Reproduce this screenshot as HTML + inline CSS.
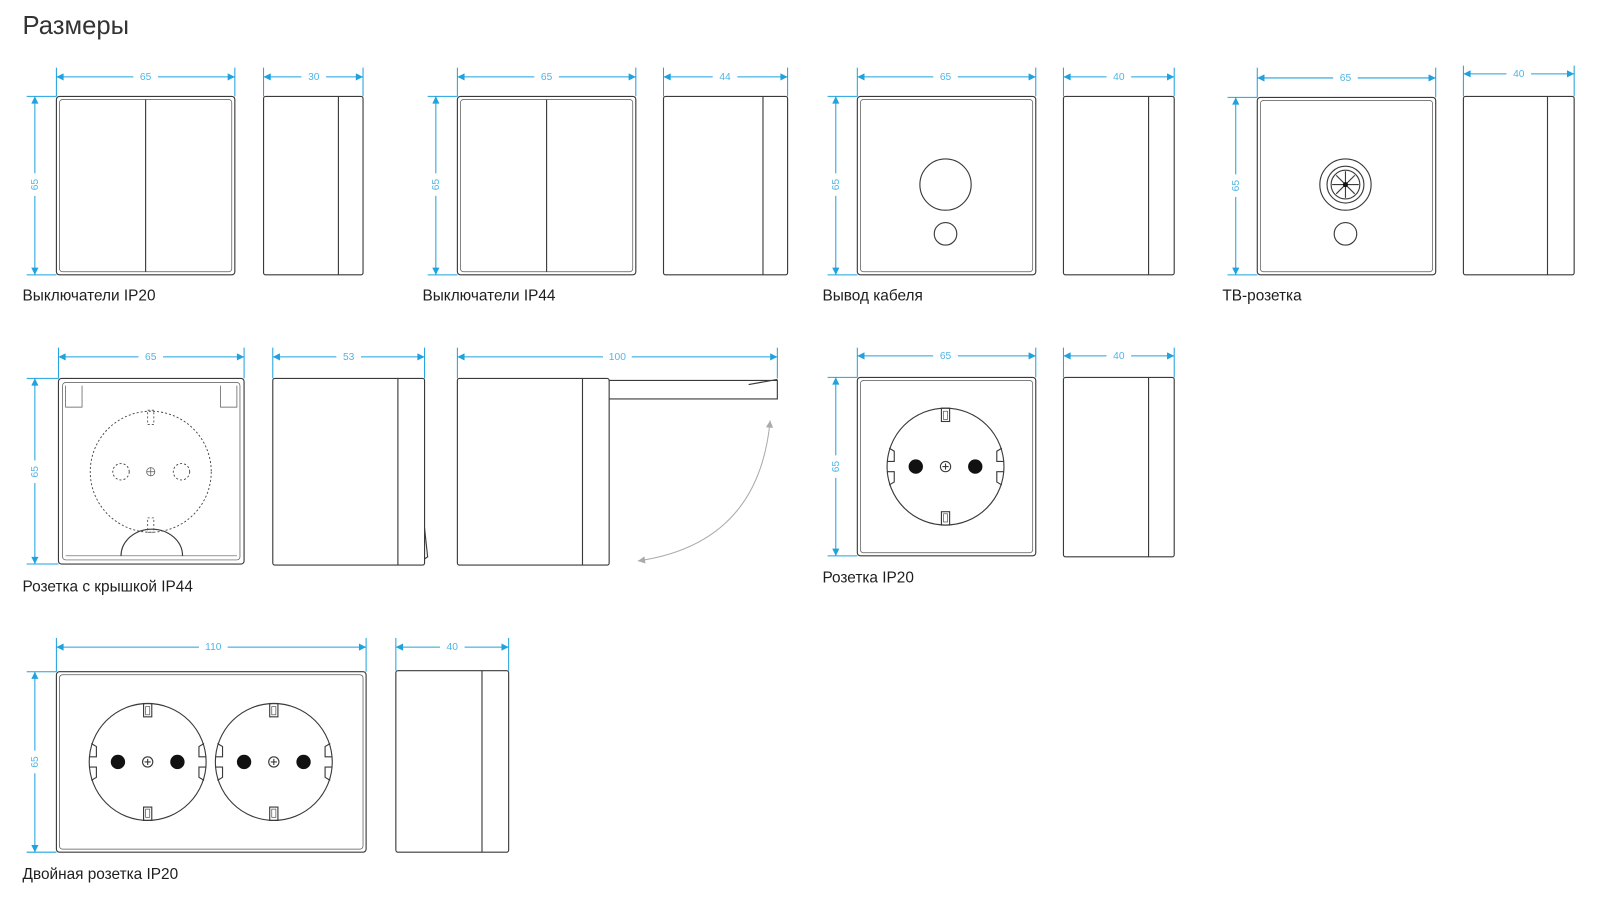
<!DOCTYPE html>
<html><head><meta charset="utf-8"><style>
html,body{margin:0;padding:0;background:#fff;}
svg{display:block}
.b{fill:none;stroke:#3a3a3a;stroke-width:1.1}
.t{fill:none;stroke:#555;stroke-width:0.7}
.d{stroke:#1fa2de;stroke-width:1;fill:none}
.dl{font-family:"Liberation Sans",sans-serif;font-size:10px;fill:#4fb6e6;text-anchor:middle}
.lab{font-family:"Liberation Sans","Noto Sans CJK SC",sans-serif;font-size:15px;fill:#1e1e1e}
</style></head><body>
<svg width="1608" height="906" viewBox="0 0 1568 883" preserveAspectRatio="xMinYMin meet" xmlns="http://www.w3.org/2000/svg">
<defs>
<marker id="a" viewBox="0 0 10 10" refX="10" refY="5" markerWidth="8" markerHeight="7" orient="auto-start-reverse" markerUnits="userSpaceOnUse"><path d="M0,0L10,5L0,10z" fill="#1fa2de"/></marker>
<marker id="g" viewBox="0 0 10 10" refX="10" refY="5" markerWidth="8" markerHeight="7" orient="auto-start-reverse" markerUnits="userSpaceOnUse"><path d="M0,0L10,5L0,10z" fill="#aaa"/></marker>
<g id="sock">
<circle r="57" class="b" stroke-width="1"/>
<path class="b" stroke-width="1" d="M-55,-18 L-50,-15 L-50,-5 L-57,-5 M-57,5 L-50,5 L-50,15 L-55,18 M55,-18 L50,-15 L50,-5 L57,-5 M57,5 L50,5 L50,15 L55,18"/>
<rect x="-4" y="-57" width="8" height="13" class="b" stroke-width="1"/>
<rect x="-2" y="-54" width="4" height="8" class="t"/>
<rect x="-4" y="44" width="8" height="13" class="b" stroke-width="1"/>
<rect x="-2" y="46" width="4" height="8" class="t"/>
<circle cx="-29" r="7" fill="#111"/><circle cx="29" r="7" fill="#111"/>
<circle r="5" class="b" stroke-width="0.9"/><path d="M-3,0H3M0,-3V3" class="b" stroke-width="0.9"/>
</g>
</defs>

<text x="22" y="33" font-family="Liberation Sans,sans-serif" font-size="25" fill="#333">Размеры</text>

<!-- Item 1 -->
<rect x="55" y="94" width="174" height="174" rx="3" class="b"/>
<rect x="58" y="97" width="168" height="168" rx="3" class="t"/>
<line x1="142" y1="97" x2="142" y2="265" class="b"/>
<rect x="257" y="94" width="97" height="174" rx="2" class="b"/>
<line x1="330" y1="94" x2="330" y2="268" class="b"/>
<g class="d">
<path d="M55,66V94M229,66V94M257,66V94M354,66V94M26,94H55M26,268H55"/>
<line x1="55" y1="75" x2="229" y2="75" marker-start="url(#a)" marker-end="url(#a)"/>
<line x1="257" y1="75" x2="354" y2="75" marker-start="url(#a)" marker-end="url(#a)"/>
<line x1="34" y1="94" x2="34" y2="268" marker-start="url(#a)" marker-end="url(#a)"/>
</g>
<rect x="130" y="69" width="24" height="12" fill="#fff"/><text x="142" y="78" class="dl">65</text>
<rect x="294" y="69" width="24" height="12" fill="#fff"/><text x="306" y="78" class="dl">30</text>
<rect x="28" y="169" width="12" height="22" fill="#fff"/><text transform="translate(37,180) rotate(-90)" class="dl">65</text>
<text x="22" y="293" class="lab">Выключатели IP20</text>

<!-- Item 2 -->
<rect x="446" y="94" width="174" height="174" rx="3" class="b"/>
<rect x="449" y="97" width="168" height="168" rx="3" class="t"/>
<line x1="533" y1="97" x2="533" y2="265" class="b"/>
<rect x="647" y="94" width="121" height="174" rx="2" class="b"/>
<line x1="744" y1="94" x2="744" y2="268" class="b"/>
<g class="d">
<path d="M446,66V94M620,66V94M647,66V94M768,66V94M417,94H446M417,268H446"/>
<line x1="446" y1="75" x2="620" y2="75" marker-start="url(#a)" marker-end="url(#a)"/>
<line x1="647" y1="75" x2="768" y2="75" marker-start="url(#a)" marker-end="url(#a)"/>
<line x1="425" y1="94" x2="425" y2="268" marker-start="url(#a)" marker-end="url(#a)"/>
</g>
<rect x="521" y="69" width="24" height="12" fill="#fff"/><text x="533" y="78" class="dl">65</text>
<rect x="695" y="69" width="24" height="12" fill="#fff"/><text x="707" y="78" class="dl">44</text>
<rect x="419" y="169" width="12" height="22" fill="#fff"/><text transform="translate(428,180) rotate(-90)" class="dl">65</text>
<text x="412" y="293" class="lab">Выключатели IP44</text>

<!-- Item 3 -->
<rect x="836" y="94" width="174" height="174" rx="3" class="b"/>
<rect x="839" y="97" width="168" height="168" rx="3" class="t"/>
<circle cx="922" cy="180" r="25" class="b"/>
<circle cx="922" cy="228" r="11" class="b"/>
<rect x="1037" y="94" width="108" height="174" rx="2" class="b"/>
<line x1="1120" y1="94" x2="1120" y2="268" class="b"/>
<g class="d">
<path d="M836,66V94M1010,66V94M1037,66V94M1145,66V94M807,94H836M807,268H836"/>
<line x1="836" y1="75" x2="1010" y2="75" marker-start="url(#a)" marker-end="url(#a)"/>
<line x1="1037" y1="75" x2="1145" y2="75" marker-start="url(#a)" marker-end="url(#a)"/>
<line x1="815" y1="94" x2="815" y2="268" marker-start="url(#a)" marker-end="url(#a)"/>
</g>
<rect x="910" y="69" width="24" height="12" fill="#fff"/><text x="922" y="78" class="dl">65</text>
<rect x="1079" y="69" width="24" height="12" fill="#fff"/><text x="1091" y="78" class="dl">40</text>
<rect x="809" y="169" width="12" height="22" fill="#fff"/><text transform="translate(818,180) rotate(-90)" class="dl">65</text>
<text x="802" y="293" class="lab">Вывод кабеля</text>

<!-- Item 4 -->
<rect x="1226" y="95" width="174" height="173" rx="3" class="b"/>
<rect x="1229" y="98" width="168" height="167" rx="3" class="t"/>
<circle cx="1312" cy="180" r="25" class="b"/>
<circle cx="1312" cy="180" r="18" class="b"/>
<circle cx="1312" cy="180" r="14" class="b"/>
<path d="M1299,180H1325M1312,167V193M1303,171L1321,189M1321,171L1303,189" class="b" stroke-width="0.8"/>
<circle cx="1312" cy="180" r="2.5" fill="#111"/>
<circle cx="1312" cy="228" r="11" class="b"/>
<rect x="1427" y="94" width="108" height="174" rx="2" class="b"/>
<line x1="1509" y1="94" x2="1509" y2="268" class="b"/>
<g class="d">
<path d="M1226,66V95M1400,66V95M1427,64V94M1535,64V94M1197,95H1226M1197,268H1226"/>
<line x1="1226" y1="76" x2="1400" y2="76" marker-start="url(#a)" marker-end="url(#a)"/>
<line x1="1427" y1="72" x2="1535" y2="72" marker-start="url(#a)" marker-end="url(#a)"/>
<line x1="1205" y1="95" x2="1205" y2="268" marker-start="url(#a)" marker-end="url(#a)"/>
</g>
<rect x="1300" y="70" width="24" height="12" fill="#fff"/><text x="1312" y="79" class="dl">65</text>
<rect x="1469" y="66" width="24" height="12" fill="#fff"/><text x="1481" y="75" class="dl">40</text>
<rect x="1199" y="170" width="12" height="22" fill="#fff"/><text transform="translate(1208,181) rotate(-90)" class="dl">65</text>
<text x="1192" y="293" class="lab">ТВ-розетка</text>

<!-- Item 5 -->
<rect x="57" y="369" width="181" height="181" rx="3" class="b"/>
<rect x="61" y="373" width="173" height="173" rx="3" class="t"/>
<path d="M64,376V397H80V376M231,376V397H215V376" class="t"/>
<path d="M64,542H231" class="t"/>
<path d="M118,542A30,26 0 0 1 178,542" class="b"/>
<circle cx="147" cy="460" r="59" fill="none" stroke="#444" stroke-width="0.9" stroke-dasharray="2,2"/>
<circle cx="118" cy="460" r="8" fill="none" stroke="#444" stroke-width="0.9" stroke-dasharray="2,2"/>
<circle cx="177" cy="460" r="8" fill="none" stroke="#444" stroke-width="0.9" stroke-dasharray="2,2"/>
<rect x="144" y="400" width="6" height="14" fill="none" stroke="#444" stroke-width="0.8" stroke-dasharray="2,2"/>
<rect x="144" y="505" width="6" height="14" fill="none" stroke="#444" stroke-width="0.8" stroke-dasharray="2,2"/>
<circle cx="147" cy="460" r="4" class="t"/><path d="M143,460H151M147,456V464" class="t"/>
<rect x="266" y="369" width="148" height="182" rx="2" class="b"/>
<line x1="388" y1="369" x2="388" y2="551" class="b"/>
<path d="M414,515L417,543L414,545" class="b"/>
<rect x="446" y="369" width="148" height="182" rx="2" class="b"/>
<line x1="568" y1="369" x2="568" y2="551" class="b"/>
<path d="M594,371H758V389H594M730,375L758,370" class="b"/>
<path d="M751,410Q740,530 622,547" fill="none" stroke="#aaa" stroke-width="1" marker-start="url(#g)" marker-end="url(#g)"/>
<g class="d">
<path d="M57,339V369M238,339V369M266,339V369M414,339V369M446,339V369M758,339V369M26,369H57M26,550H57"/>
<line x1="57" y1="348" x2="238" y2="348" marker-start="url(#a)" marker-end="url(#a)"/>
<line x1="266" y1="348" x2="414" y2="348" marker-start="url(#a)" marker-end="url(#a)"/>
<line x1="446" y1="348" x2="758" y2="348" marker-start="url(#a)" marker-end="url(#a)"/>
<line x1="34" y1="369" x2="34" y2="550" marker-start="url(#a)" marker-end="url(#a)"/>
</g>
<rect x="135" y="342" width="24" height="12" fill="#fff"/><text x="147" y="351" class="dl">65</text>
<rect x="328" y="342" width="24" height="12" fill="#fff"/><text x="340" y="351" class="dl">53</text>
<rect x="588" y="342" width="28" height="12" fill="#fff"/><text x="602" y="351" class="dl">100</text>
<rect x="28" y="449" width="12" height="22" fill="#fff"/><text transform="translate(37,460) rotate(-90)" class="dl">65</text>
<text x="22" y="577" class="lab">Розетка с крышкой IP44</text>

<!-- Item 6 -->
<rect x="836" y="368" width="174" height="174" rx="3" class="b"/>
<rect x="839" y="371" width="168" height="168" rx="3" class="t"/>
<use href="#sock" x="922" y="455"/>
<rect x="1037" y="368" width="108" height="175" rx="2" class="b"/>
<line x1="1120" y1="368" x2="1120" y2="543" class="b"/>
<g class="d">
<path d="M836,339V368M1010,339V368M1037,339V368M1145,339V368M807,368H836M807,542H836"/>
<line x1="836" y1="347" x2="1010" y2="347" marker-start="url(#a)" marker-end="url(#a)"/>
<line x1="1037" y1="347" x2="1145" y2="347" marker-start="url(#a)" marker-end="url(#a)"/>
<line x1="815" y1="368" x2="815" y2="542" marker-start="url(#a)" marker-end="url(#a)"/>
</g>
<rect x="910" y="341" width="24" height="12" fill="#fff"/><text x="922" y="350" class="dl">65</text>
<rect x="1079" y="341" width="24" height="12" fill="#fff"/><text x="1091" y="350" class="dl">40</text>
<rect x="809" y="444" width="12" height="22" fill="#fff"/><text transform="translate(818,455) rotate(-90)" class="dl">65</text>
<text x="802" y="568" class="lab">Розетка IP20</text>

<!-- Item 7 -->
<rect x="55" y="655" width="302" height="176" rx="3" class="b"/>
<rect x="58" y="658" width="296" height="170" rx="3" class="t"/>
<use href="#sock" x="144" y="743"/>
<use href="#sock" x="267" y="743"/>
<rect x="386" y="654" width="110" height="177" rx="2" class="b"/>
<line x1="470" y1="654" x2="470" y2="831" class="b"/>
<g class="d">
<path d="M55,622V655M357,622V655M386,622V654M496,622V654M26,655H55M26,831H55"/>
<line x1="55" y1="631" x2="357" y2="631" marker-start="url(#a)" marker-end="url(#a)"/>
<line x1="386" y1="631" x2="496" y2="631" marker-start="url(#a)" marker-end="url(#a)"/>
<line x1="34" y1="655" x2="34" y2="831" marker-start="url(#a)" marker-end="url(#a)"/>
</g>
<rect x="194" y="625" width="28" height="12" fill="#fff"/><text x="208" y="634" class="dl">110</text>
<rect x="429" y="625" width="24" height="12" fill="#fff"/><text x="441" y="634" class="dl">40</text>
<rect x="28" y="732" width="12" height="22" fill="#fff"/><text transform="translate(37,743) rotate(-90)" class="dl">65</text>
<text x="22" y="857" class="lab">Двойная розетка IP20</text>
</svg>
</body></html>
